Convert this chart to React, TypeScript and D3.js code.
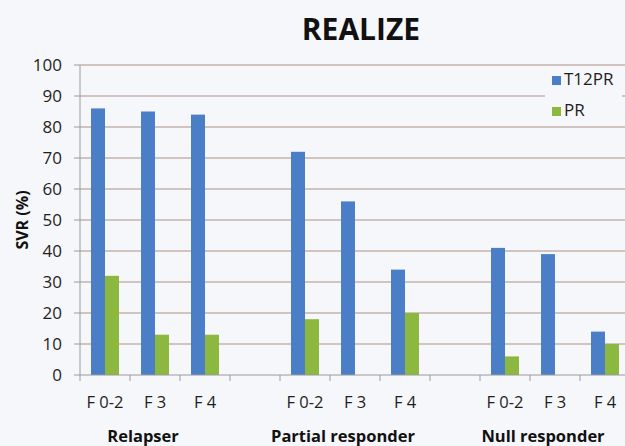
import * as d3 from "d3";

const categories = ["F 0-2", "F 3", "F 4", "", "F 0-2 ", "F 3 ", "F 4 ", " ", "F 0-2  ", "F 3  ", "F 4  "];
const t12prValues: (number | null)[] = [86, 85, 84, null, 72, 56, 34, null, 41, 39, 14];
const prValues: (number | null)[] = [32, 13, 13, null, 18, null, 20, null, 6, null, 10];
const groupLabels = ["Relapser", "Partial responder", "Null responder"];
const groupSlots = [[0, 2], [4, 6], [8, 10]];
const yTicks = [0, 10, 20, 30, 40, 50, 60, 70, 80, 90, 100];
const seriesNames = ["T12PR", "PR"];
const seriesColors = ["#4a7fc8", "#8cb83f"];

const W = 625;
const H = 446;
const FONT = "'Open Sans', 'Noto Sans', sans-serif";
const MARGIN = { top: 65, right: -5, bottom: 71, left: 80 };

export default function App() {
  const w = W - MARGIN.left - MARGIN.right;
  const h = H - MARGIN.top - MARGIN.bottom;

  const x = d3.scaleBand<string>().domain(categories).range([0, w]).paddingInner(0.44).paddingOuter(0.22);
  const xSub = d3.scaleBand<string>().domain(seriesNames).range([0, x.bandwidth()]);
  const y = d3.scaleLinear().domain([0, 100]).range([h, 0]);
  const step = x.step();
  const slotLeft = (i: number) => i * step;

  const series = [t12prValues, prValues];

  return (
    <svg width={W} height={H} style={{ position: "absolute", left: 0, top: 0, background: "#f6f7fa" }} fontFamily={FONT}>
      <text x={361} y={40} textAnchor="middle" fontSize={30} fontWeight="bold" fill="#111">
        REALIZE
      </text>
      <g transform={`translate(${MARGIN.left},${MARGIN.top})`}>
        {yTicks.map((t) => (
          <g key={t}>
            {t > 0 && (
              <line x1={0} x2={W - MARGIN.left} y1={y(t)} y2={y(t)} stroke="#c4b3aa" strokeWidth={1.3} />
            )}
            <line x1={-6} x2={0} y1={y(t)} y2={y(t)} stroke="#9a9a9a" />
            <text x={-18} y={y(t)} dy="0.35em" textAnchor="end" fontSize={17} fill="#1e1e1e">
              {t}
            </text>
          </g>
        ))}
        {series.map((vals, si) =>
          vals.map((v, i) =>
            v == null ? null : (
              <rect
                key={`${si}-${i}`}
                x={(x(categories[i]) ?? 0) + (xSub(seriesNames[si]) ?? 0)}
                y={y(v)}
                width={xSub.bandwidth()}
                height={h - y(v)}
                fill={seriesColors[si]}
              />
            )
          )
        )}
        <line x1={0} x2={0} y1={0} y2={h} stroke="#9a9a9a" />
        <line x1={0} x2={W - MARGIN.left} y1={h} y2={h} stroke="#9a9a9a" />
        {categories.map((c, i) => (
          <line key={`tk${i}`} x1={slotLeft(i)} x2={slotLeft(i)} y1={h} y2={h + 6} stroke="#9a9a9a" />
        ))}
        {categories.map((c, i) =>
          c.trim() === "" ? null : (
            <text key={`c${i}`} x={slotLeft(i) + step / 2} y={h + 33} textAnchor="middle" fontSize={16.5} fill="#1e1e1e">
              {c.trim()}
            </text>
          )
        )}
        {groupLabels.map((g, gi) => {
          const [a, b] = groupSlots[gi];
          const cx = (slotLeft(a) + slotLeft(b + 1)) / 2 - 12;
          return (
            <text key={g} x={cx} y={h + 67} textAnchor="middle" fontSize={16.5} fontWeight="bold" fill="#111">
              {g}
            </text>
          );
        })}
        <text
          transform={`translate(${-52},${y(50)}) rotate(-90)`}
          textAnchor="middle"
          fontSize={16}
          fontWeight="bold"
          fill="#111"
        >
          SVR (%)
        </text>
      </g>
      <g transform="translate(545,67)">
        <rect x={0} y={0} width={77} height={57} fill="#f6f7fa" />
        {seriesNames.map((s, i) => (
          <g key={s} transform={`translate(7,${9 + i * 31})`}>
            <rect x={0} y={0} width={9} height={9} fill={seriesColors[i]} />
            <text x={12} y={9} fontSize={17} fill="#1e1e1e">
              {s}
            </text>
          </g>
        ))}
      </g>
    </svg>
  );
}
